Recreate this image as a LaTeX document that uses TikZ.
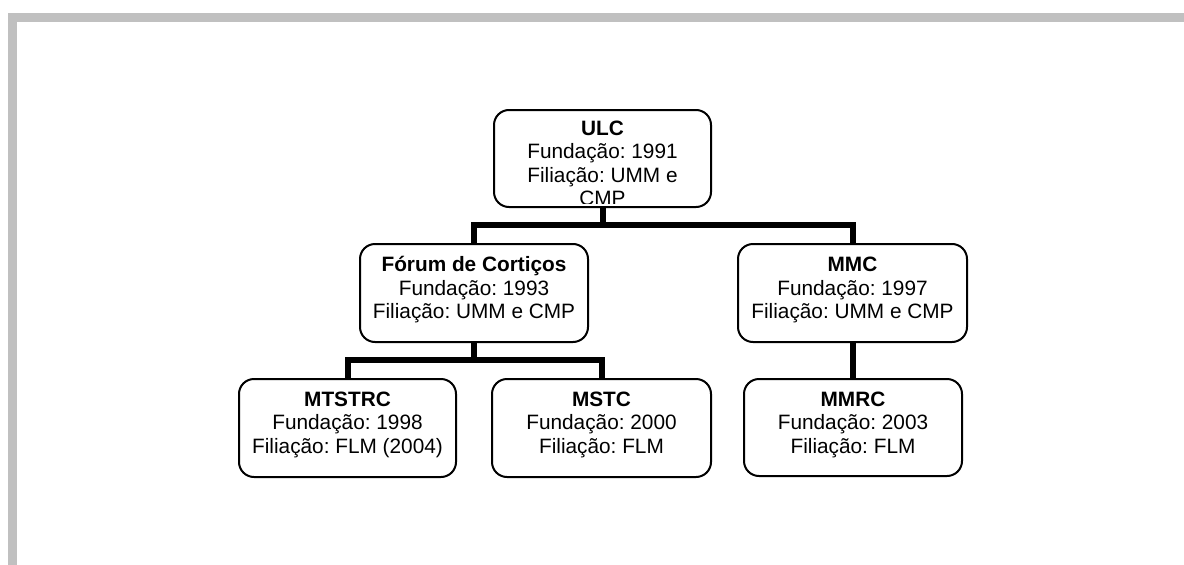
\documentclass[tikz,border=0pt]{standalone}
\usepackage{fontspec}
\setmainfont{Liberation Sans}
\frenchspacing
\definecolor{bandgray}{HTML}{C0C0C0}
\begin{document}
\begin{tikzpicture}[x=1pt,y=-1pt,
  box/.style={draw=black,line width=2pt,rounded corners=15pt,fill=white,inner sep=0pt},
  conn/.style={draw=black,line width=6pt,line join=miter},
  txt/.style={anchor=base,inner sep=0pt,font=\fontsize{20.8}{23.5}\selectfont\frenchspacing},
  ttl/.style={txt,font=\fontsize{20.8}{23.5}\selectfont\bfseries\frenchspacing}]
\useasboundingbox (0,0) rectangle (1184,565);
% grey frame bands
\fill[bandgray] (8,13) rectangle (1184,22);
\fill[bandgray] (8,13) rectangle (17,565);
% boxes
\node[box,minimum width=217pt,minimum height=97pt] (ulc) at (602.5,158.5) {};
\node[box,minimum width=228pt,minimum height=98pt] (forum) at (474,293) {};
\node[box,minimum width=229pt,minimum height=98pt] (mmc) at (852.5,293) {};
\node[box,minimum width=217pt,minimum height=98pt] (mtstrc) at (347.5,428) {};
\node[box,minimum width=219pt,minimum height=98pt] (mstc) at (601.5,428) {};
\node[box,minimum width=218pt,minimum height=97pt] (mmrc) at (853,427.5) {};
% connectors
\draw[conn] (ulc.south) -- ++(0,17) coordinate (j1);
\draw[conn] (forum.north) |- (j1) -| (mmc.north);
\draw[conn] (forum.south) -- ++(0,17) coordinate (j2);
\draw[conn] (mtstrc.north) |- (j2) -| (mstc.north);
\draw[conn] (mmc.south) -- (mmc.south |- mmrc.north);
% texts
\begin{scope}
\clip (495,111) rectangle (710,203);
\node[ttl] (ulc1) at (602.5,135) {ULC};
\node[txt] (ulc2) at (602.5,158.5) {Fundação: 1991};
\node[txt] (ulc3) at (602.5,182) {Filiação: UMM e};
\node[txt] (ulc4) at (602.5,205.5) {CMP};
\end{scope}
\node[ttl] (f1) at (474,271.5) {Fórum de Cortiços};
\node[txt] (f2) at (474,295) {Fundação: 1993};
\node[txt] (f3) at (474,318.5) {Filiação: UMM e CMP};
\node[ttl] (m1) at (852.5,271.5) {MMC};
\node[txt] (m2) at (852.5,295) {Fundação: 1997};
\node[txt] (m3) at (852.5,318.5) {Filiação: UMM e CMP};
\node[ttl] (t1) at (347.5,406) {MTSTRC};
\node[txt] (t2) at (347.5,429.5) {Fundação: 1998};
\node[txt] (t3) at (347.5,453) {Filiação: FLM (2004)};
\node[ttl] (s1) at (601.5,406) {MSTC};
\node[txt] (s2) at (601.5,429.5) {Fundação: 2000};
\node[txt] (s3) at (601.5,453) {Filiação: FLM};
\node[ttl] (r1) at (853,406) {MMRC};
\node[txt] (r2) at (853,429.5) {Fundação: 2003};
\node[txt] (r3) at (853,453) {Filiação: FLM};
\end{tikzpicture}
\end{document}
